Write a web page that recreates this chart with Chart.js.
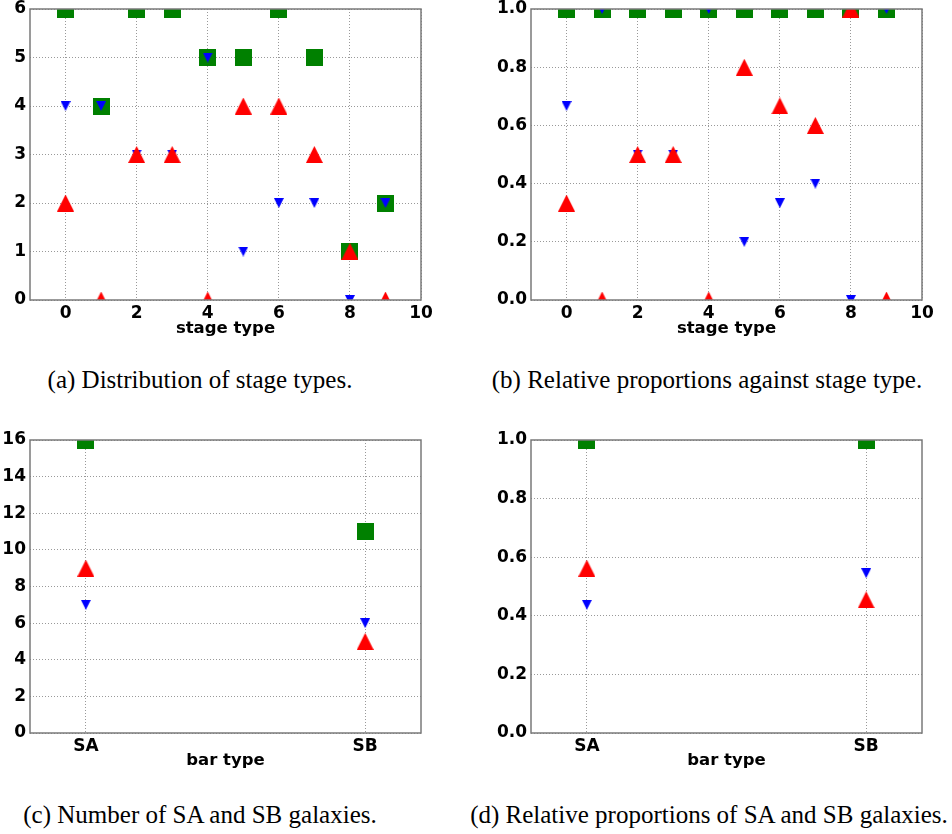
<!DOCTYPE html>
<html>
<head>
<meta charset="utf-8">
<script src="https://cdn.jsdelivr.net/npm/chart.js@4.4.0/dist/chart.umd.min.js"></script>
<style>
  body { margin: 0; background: #fff; }
  #page { position: relative; width: 952px; height: 834px; overflow: hidden; }
  .panel { position: absolute; }
  .cap {
    position: absolute; width: 600px; text-align: center; white-space: nowrap;
    font-family: "Liberation Serif", serif; font-size: 25px; line-height: 28px; color: #000;
  }
</style>
</head>
<body>
<div id="page">
  <canvas class="panel" id="chart-a" width="470" height="345" style="left:0;top:0"></canvas>
  <canvas class="panel" id="chart-b" width="482" height="345" style="left:470px;top:0"></canvas>
  <canvas class="panel" id="chart-c" width="470" height="360" style="left:0;top:420px"></canvas>
  <canvas class="panel" id="chart-d" width="482" height="360" style="left:470px;top:420px"></canvas>

  <div class="cap" style="left:-100px;top:366px">(a) Distribution of stage types.</div>
  <div class="cap" style="left:407px;top:366px">(b) Relative proportions against stage type.</div>
  <div class="cap" style="left:-100px;top:801px">(c) Number of SA and SB galaxies.</div>
  <div class="cap" style="left:409px;top:801px">(d) Relative proportions of SA and SB galaxies.</div>
</div>

<script>
// DATA

// stage type panels (a), (b)
const stageTypes = [0, 1, 2, 3, 4, 5, 6, 7, 8, 9];
const stageTotal = [6, 4, 6, 6, 5, 5, 6, 5, 1, 2];
const stageBlue  = [4, 4, 3, 3, 5, 1, 2, 2, 0, 2];
const stageRed   = [2, 0, 3, 3, 0, 4, 4, 3, 1, 0];

const stageTotalFrac = [1, 1, 1, 1, 1, 1, 1, 1, 1, 1];
const stageBlueFrac  = [0.667, 1, 0.5, 0.5, 1, 0.2, 0.333, 0.4, 0, 1];
const stageRedFrac   = [0.333, 0, 0.5, 0.5, 0, 0.8, 0.667, 0.6, 1, 0];

// bar type panels (c), (d)
const barTypes = ["SA", "SB"];
const barTotal = [16, 11];
const barBlue  = [7, 6];
const barRed   = [9, 5];

const barTotalFrac = [1, 1];
const barBlueFrac  = [0.4375, 0.5455];
const barRedFrac   = [0.5625, 0.4545];

// tick labels
const stageTicks = [0, 2, 4, 6, 8, 10];
const barTicks = [0, 1];
const countTicksA = [0, 1, 2, 3, 4, 5, 6];
const countTicksC = [0, 2, 4, 6, 8, 10, 12, 14, 16];
const fracTicks = [0, 0.2, 0.4, 0.6, 0.8, 1.0];


// marker images, matplotlib style (g s, b v, r ^)
function makeMarker(shape, size, color) {
  const c = document.createElement("canvas");
  c.width = size;
  c.height = size;
  const g = c.getContext("2d");
  g.fillStyle = color;
  g.beginPath();
  if (shape === "square") {
    g.rect(0, 0, size, size);
  } else if (shape === "up") {
    g.moveTo(size / 2, 0); g.lineTo(size, size); g.lineTo(0, size);
  } else {
    g.moveTo(0, 0); g.lineTo(size, 0); g.lineTo(size / 2, size);
  }
  g.closePath();
  g.fill();
  return c;
}

const greenSquare = makeMarker("square", 17, "#008000");
const redUp = makeMarker("up", 17, "#ff0000");
const blueDown = makeMarker("down", 10, "#0000ff");

// frame round the plot area
const framePlugin = {
  id: "frame",
  afterDatasetsDraw(chart) {
    const { ctx, chartArea: a } = chart;
    ctx.save();
    ctx.strokeStyle = "#7a7a7a";
    ctx.lineWidth = 1.5;
    ctx.strokeRect(a.left, a.top, a.right - a.left, a.bottom - a.top);
    ctx.restore();
  }
};

const tickFont = { family: "DejaVu Sans", weight: "bold", size: 17 };
const titleFont = { family: "DejaVu Sans", weight: "bold", size: 16.5 };

function points(xs, ys) {
  return xs.map((x, i) => ({ x: x, y: ys[i] }));
}

function series(data, style) {
  return {
    data: data,
    pointStyle: style,
    pointRadius: 8,
    pointHoverRadius: 8,
    showLine: false,
    clip: 0
  };
}

function renderPanel(id, cfg) {
  const ctx = document.getElementById(id).getContext("2d");
  return new Chart(ctx, {
    type: "scatter",
    data: {
      // red drawn last (on top), green first
      datasets: [
        series(cfg.red, redUp),
        series(cfg.blue, blueDown),
        series(cfg.total, greenSquare)
      ]
    },
    options: {
      responsive: false,
      animation: false,
      events: [],
      layout: { padding: cfg.padding },
      plugins: { legend: { display: false }, tooltip: { enabled: false } },
      scales: {
        x: {
          type: "linear",
          min: cfg.xMin,
          max: cfg.xMax,
          afterBuildTicks: s => { s.ticks = cfg.xTicks.map(v => ({ value: v })); },
          afterFit: s => {
            s.height = cfg.xHeight;
            s.paddingLeft = 0;
            s.paddingRight = 0;
          },
          grid: { color: "#999", lineWidth: 1, drawTicks: false },
          border: { display: false, dash: [1, 2] },
          ticks: {
            color: "#000", font: tickFont, padding: 3,
            maxRotation: 0, autoSkip: false,
            callback: cfg.xFmt
          },
          title: {
            display: true, text: cfg.xTitle, color: "#000", font: titleFont,
            padding: { top: 0, bottom: cfg.titlePad }
          }
        },
        y: {
          type: "linear",
          min: cfg.yMin,
          max: cfg.yMax,
          afterBuildTicks: s => { s.ticks = cfg.yTicks.map(v => ({ value: v })); },
          afterFit: s => {
            s.width = cfg.yWidth;
            s.paddingTop = 0;
            s.paddingBottom = 0;
          },
          grid: { color: "#999", lineWidth: 1, drawTicks: false },
          border: { display: false, dash: [1, 2] },
          ticks: { color: "#000", font: tickFont, padding: 4, callback: cfg.yFmt }
        }
      }
    },
    plugins: [framePlugin]
  });
}

const countFmt = v => String(v);
const fracFmt = v => Number(v).toFixed(1);
const barFmt = v => barTypes[v];

renderPanel("chart-a", {
  total: points(stageTypes, stageTotal),
  blue: points(stageTypes, stageBlue),
  red: points(stageTypes, stageRed),
  xMin: -1, xMax: 10, xTicks: stageTicks, xFmt: countFmt, xTitle: "stage type",
  yMin: 0, yMax: 6, yTicks: countTicksA, yFmt: countFmt,
  padding: { left: 0, top: 7, right: 49, bottom: 0 },
  xHeight: 45, yWidth: 30, titlePad: 6
});

renderPanel("chart-b", {
  total: points(stageTypes, stageTotalFrac),
  blue: points(stageTypes, stageBlueFrac),
  red: points(stageTypes, stageRedFrac),
  xMin: -1, xMax: 10, xTicks: stageTicks, xFmt: countFmt, xTitle: "stage type",
  yMin: 0, yMax: 1, yTicks: fracTicks, yFmt: fracFmt,
  padding: { left: 0, top: 7, right: 30, bottom: 0 },
  xHeight: 45, yWidth: 61, titlePad: 6
});

const barX = barTypes.map((_, i) => i);

renderPanel("chart-c", {
  total: points(barX, barTotal),
  blue: points(barX, barBlue),
  red: points(barX, barRed),
  xMin: -0.2, xMax: 1.2, xTicks: barTicks, xFmt: barFmt, xTitle: "bar type",
  yMin: 0, yMax: 16, yTicks: countTicksC, yFmt: countFmt,
  padding: { left: 0, top: 20, right: 49, bottom: 0 },
  xHeight: 47, yWidth: 30, titlePad: 9
});

renderPanel("chart-d", {
  total: points(barX, barTotalFrac),
  blue: points(barX, barBlueFrac),
  red: points(barX, barRedFrac),
  xMin: -0.2, xMax: 1.2, xTicks: barTicks, xFmt: barFmt, xTitle: "bar type",
  yMin: 0, yMax: 1, yTicks: fracTicks, yFmt: fracFmt,
  padding: { left: 0, top: 20, right: 30, bottom: 0 },
  xHeight: 47, yWidth: 61, titlePad: 9
});
</script>
</body>
</html>
